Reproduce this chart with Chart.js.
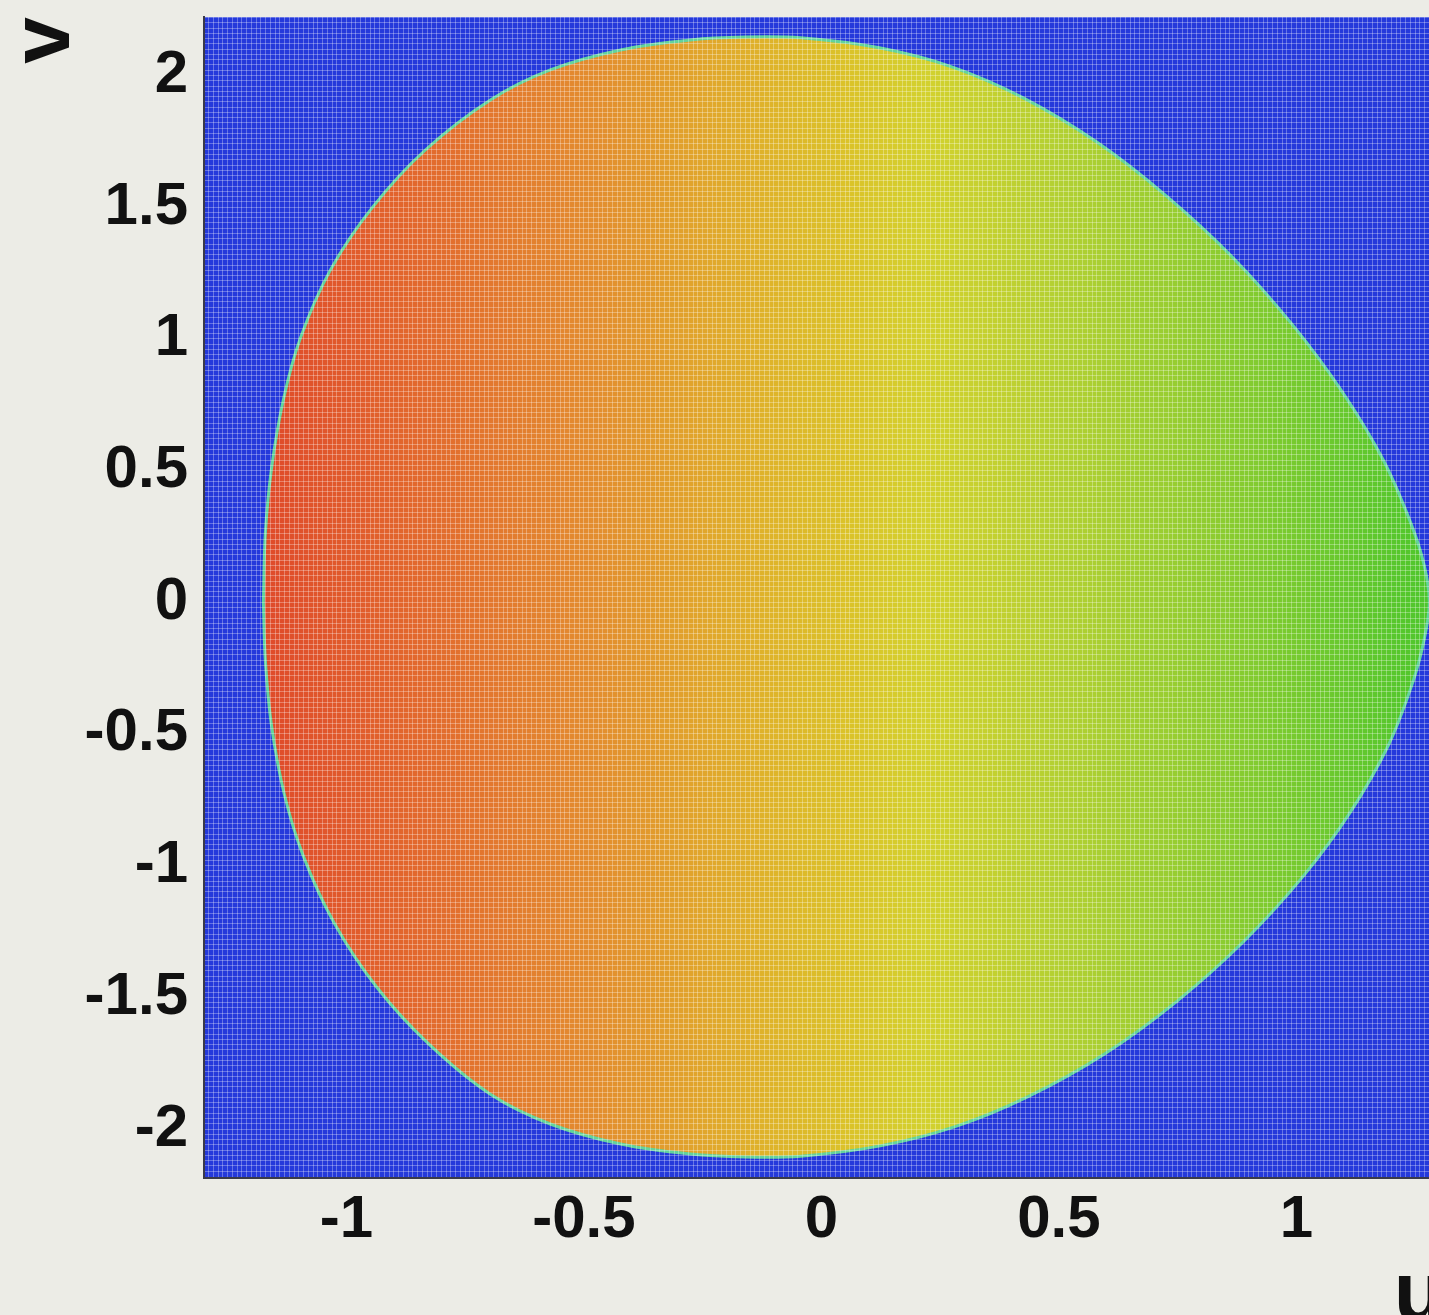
<!DOCTYPE html>
<html>
<head>
<meta charset="utf-8">
<script src="https://cdn.jsdelivr.net/npm/chart.js@4.4.1/dist/chart.umd.min.js"></script>
<style>
html,body{margin:0;padding:0;overflow:hidden;background:#ecece6;}
canvas{display:block;}
</style>
</head>
<body>
<canvas id="c" width="1451" height="1337"></canvas>
<script>
// ---- data ----
// boundary of the coloured region (u, v), walked round once
const boundaryU = [-1.175,-1.171,-1.158,-1.133,-1.097,-1.034,-0.945,-0.834,-0.697,-0.571,-0.423,-0.276,-0.160,-0.044,0.122,0.276,0.425,0.579,0.726,0.865,0.992,1.097,1.183,1.240,1.269,1.280,
                   1.269,1.244,1.194,1.114,1.015,0.888,0.747,0.596,0.434,0.280,0.124,-0.044,-0.160,
                   -0.276,-0.423,-0.571,-0.697,-0.827,-0.937,-1.025,-1.091,-1.131,-1.158,-1.171,-1.175];
const boundaryV = [0,0.256,0.506,0.768,1.003,1.261,1.500,1.717,1.907,2.021,2.097,2.135,2.146,2.143,2.105,2.032,1.915,1.748,1.543,1.311,1.053,0.798,0.540,0.305,0.142,0,
                   -0.143,-0.310,-0.542,-0.796,-1.039,-1.290,-1.517,-1.715,-1.878,-1.992,-2.064,-2.103,-2.106,
                   -2.095,-2.057,-1.981,-1.868,-1.677,-1.460,-1.221,-0.963,-0.728,-0.466,-0.216,0];
// colour field along u (value at u -> colour)
const fieldU = [-1.18,-0.85,-0.5,-0.2,0.05,0.22,0.5,0.85,1.28];
const fieldColors = ['#df4a2a','#e2682d','#e38b2f','#e0ab2b','#dbc229','#d3d12e','#b3d032','#8bcc30','#4ec62c'];
const xTicks = [-1,-0.5,0,0.5,1];
const yTicks = [-2,-1.5,-1,-0.5,0,0.5,1,1.5,2];
const xRange = [-1.3, 1.313];
const yRange = [-2.186, 2.222];
const xLabel = 'u';
const yLabel = 'v';

const points = boundaryU.map((u, i) => ({x: u, y: boundaryV[i]}));

function isTick(list, v) { return list.some(t => Math.abs(t - v) < 1e-6); }

const bgPlugin = {
  id: 'plotBg',
  beforeDatasetsDraw(chart) {
    const {ctx, chartArea: a} = chart;
    ctx.save();
    ctx.fillStyle = '#2539db';
    ctx.fillRect(a.left, a.top, a.right - a.left, a.bottom - a.top);
    ctx.restore();
  }
};

function fieldGradient(context) {
  const chart = context.chart;
  if (!chart.chartArea) return 'rgba(0,0,0,0)';
  const xs = chart.scales.x;
  const x0 = xs.getPixelForValue(fieldU[0]);
  const x1 = xs.getPixelForValue(fieldU[fieldU.length - 1]);
  const g = chart.ctx.createLinearGradient(x0, 0, x1, 0);
  fieldU.forEach((u, i) => {
    g.addColorStop((u - fieldU[0]) / (fieldU[fieldU.length - 1] - fieldU[0]), fieldColors[i]);
  });
  return g;
}

const tickFont = {family: '"Liberation Sans", Arial, sans-serif', size: 60, weight: 'bold', lineHeight: 1};
const titleFont = {family: '"Liberation Sans", Arial, sans-serif', size: 84, weight: 'bold', lineHeight: 0.95};
const meshColor = 'rgba(255,255,255,0.3)';

new Chart(document.getElementById('c'), {
  type: 'scatter',
  data: {
    datasets: [{
      data: points,
      showLine: true,
      fill: 'shape',
      backgroundColor: fieldGradient,
      borderColor: '#63d39c',
      borderWidth: 3,
      tension: 0.3,
      pointRadius: 0,
      pointHoverRadius: 0
    }]
  },
  options: {
    responsive: false,
    animation: false,
    events: [],
    layout: {padding: {top: 17, right: 6, left: 0, bottom: 0}},
    plugins: {legend: {display: false}, tooltip: {enabled: false}},
    scales: {
      x: {
        type: 'linear',
        min: xRange[0], max: xRange[1],
        afterFit(s) { s.height = 159; s.paddingLeft = 0; s.paddingRight = 0; },
        grid: {z: 1, color: meshColor, lineWidth: 1, drawTicks: false},
        border: {z: 2, display: true, color: '#3a3a4a', width: 2},
        ticks: {
          stepSize: 0.01, autoSkip: false, maxRotation: 0, padding: 12,
          color: '#111', font: tickFont,
          callback: v => isTick(xTicks, v) ? String(Math.round(v * 2) / 2) : ''
        },
        title: {display: true, text: xLabel, align: 'end', color: '#111', font: titleFont, padding: 0}
      },
      y: {
        type: 'linear',
        min: yRange[0], max: yRange[1],
        afterFit(s) { s.width = 204; s.paddingTop = 0; s.paddingBottom = 0; },
        grid: {z: 1, color: meshColor, lineWidth: 1, drawTicks: false},
        border: {z: 2, display: true, color: '#3a3a4a', width: 2},
        ticks: {
          stepSize: 0.02, autoSkip: false, padding: 16,
          color: '#111', font: tickFont,
          callback: v => isTick(yTicks, v) ? String(Math.round(v * 2) / 2) : ''
        },
        title: {display: true, text: yLabel, align: 'end', color: '#111', font: titleFont, padding: {top: 6, bottom: 0}}
      }
    }
  },
  plugins: [bgPlugin]
});
</script>
</body>
</html>
